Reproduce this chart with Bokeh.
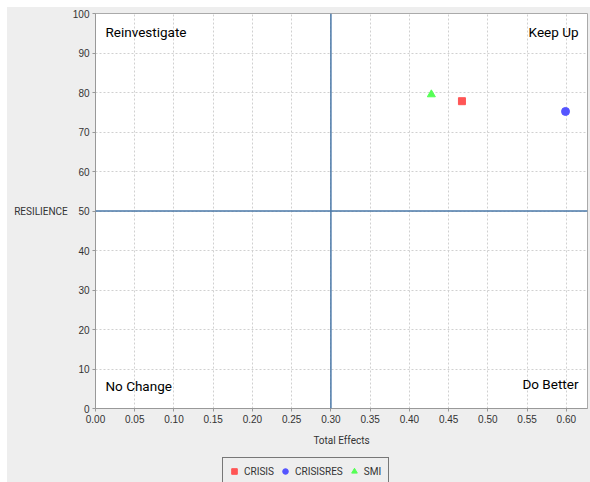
from bokeh.plotting import figure
from bokeh.layouts import column
from bokeh.models import (Range1d, FixedTicker, NumeralTickFormatter, Span, Label,
                          Legend, LegendItem)
from bokeh.embed import file_html
from bokeh.resources import INLINE

# data
series = ["CRISIS", "CRISISRES", "SMI"]
total_effects = [0.467, 0.599, 0.428]
resilience = [77.8, 75.2, 79.5]
colors = ["#ff5555", "#5555ff", "#55ff55"]
markers = ["square", "circle", "triangle"]
marker_sizes = [7, 8, 8]
x_ticks = [0.00, 0.05, 0.10, 0.15, 0.20, 0.25, 0.30, 0.35, 0.40, 0.45, 0.50, 0.55, 0.60]
y_ticks = [0, 10, 20, 30, 40, 50, 60, 70, 80, 90, 100]
x_split = 0.30
y_split = 50
quadrants = ["Reinvestigate", "Keep Up", "No Change", "Do Better"]

BG = "#eeeeee"
p = figure(width=583, height=448, output_backend="svg", toolbar_location=None,
           x_range=Range1d(0, 0.627), y_range=Range1d(0, 100),
           min_border_left=88, min_border_right=3, min_border_top=6, min_border_bottom=47,
           background_fill_color="white", border_fill_color=BG)
p.outline_line_color = "#aaaaaa"

for ax in (p.xaxis[0], p.yaxis[0]):
    ax.axis_line_color = "#999999"
    ax.major_tick_line_color = "#999999"
    ax.major_tick_in = 0
    ax.major_tick_out = 3
    ax.minor_tick_line_color = None
    ax.major_label_text_font = "Liberation Sans"
    ax.major_label_text_font_size = "10px"
    ax.major_label_text_color = "#333333"
    ax.major_label_standoff = 3
    ax.axis_label_text_font = "Roboto"
    ax.axis_label_text_font_style = "normal"
    ax.axis_label_text_font_size = "10px"
    ax.axis_label_text_color = "#333333"

p.xaxis.ticker = FixedTicker(ticks=x_ticks)
p.xaxis.formatter = NumeralTickFormatter(format="0.00")
p.yaxis.ticker = FixedTicker(ticks=y_ticks)
p.xaxis.axis_label = "Total Effects"
p.xaxis.axis_label_standoff = 9
p.yaxis.axis_label = "RESILIENCE"
p.yaxis.axis_label_standoff = 2
if "axis_label_orientation" in p.yaxis[0].properties():
    p.yaxis[0].axis_label_orientation = "horizontal"

for g in (p.xgrid[0], p.ygrid[0]):
    g.grid_line_color = "#d0d0d0"
    g.grid_line_dash = "2 2"
    g.grid_line_width = 1
p.ygrid.ticker = FixedTicker(ticks=y_ticks)
p.xgrid.ticker = FixedTicker(ticks=x_ticks)

p.add_layout(Span(location=x_split, dimension="height", line_color="#4a78a8", line_width=1.5))
p.add_layout(Span(location=y_split, dimension="width", line_color="#4a78a8", line_width=1.5))

for name, xv, yv, c, m, s in zip(series, total_effects, resilience, colors, markers, marker_sizes):
    p.scatter([xv], [yv], marker=m, size=s, fill_color=c, line_color=c)

qfont = "Roboto"
qsize = "13.5px"
p.add_layout(Label(x=0.0127, y=95.2, text=quadrants[0], text_font=qfont, text_font_size=qsize,
                   text_align="left", text_baseline="middle", text_color="black"))
p.add_layout(Label(x=0.6155, y=95.2, text=quadrants[1], text_font=qfont, text_font_size=qsize,
                   text_align="right", text_baseline="middle", text_color="black"))
p.add_layout(Label(x=0.0127, y=5.8, text=quadrants[2], text_font=qfont, text_font_size=qsize,
                   text_align="left", text_baseline="middle", text_color="black"))
p.add_layout(Label(x=0.6155, y=6.3, text=quadrants[3], text_font=qfont, text_font_size=qsize,
                   text_align="right", text_baseline="middle", text_color="black"))

# legend strip (its glyphs sit outside its own ranges; only the legend is visible)
lg = figure(width=583, height=27, output_backend="svg", toolbar_location=None,
            x_range=Range1d(0, 1), y_range=Range1d(0, 1),
            min_border_left=0, min_border_right=0, min_border_top=0, min_border_bottom=0,
            background_fill_color=BG, background_fill_alpha=1, border_fill_color=BG)
lg.outline_line_color = None
lg.axis.visible = False
lg.grid.visible = False
items = []
for name, xv, yv, c, m in zip(series, total_effects, resilience, colors, markers):
    r = lg.scatter([xv], [yv], marker=m, size=8, fill_color=c, line_color=c)
    items.append(LegendItem(label=name, renderers=[r], index=0))
legend = Legend(items=items, orientation="horizontal", location=(127, -3),
                border_line_color="black", border_line_width=1.5,
                background_fill_color=BG, background_fill_alpha=1,
                label_text_font="Roboto", label_text_font_size="10px",
                label_text_color="#333333", glyph_width=14, glyph_height=14,
                spacing=4, padding=4, margin=0, label_standoff=3, label_height=18)
lg.add_layout(legend, "center")

layout = column(p, lg, spacing=0, styles={"background-color": BG})
layout.margin = (7, 0, 0, 7)
open("out.html", "w").write(file_html(layout, INLINE))
